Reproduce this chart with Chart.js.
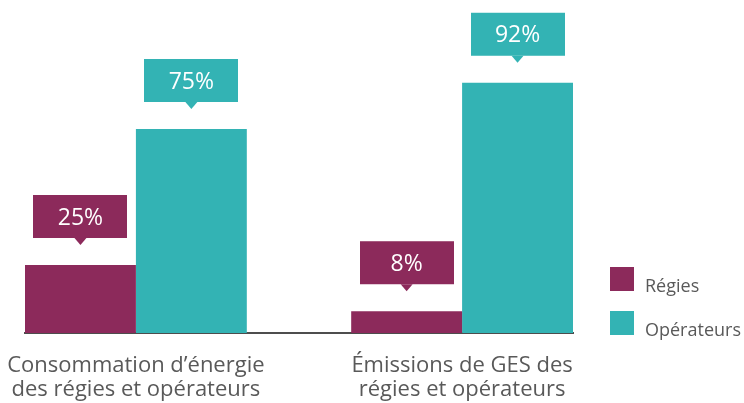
<!DOCTYPE html>
<html lang="fr">
<head>
<meta charset="utf-8">
<title>Régies et opérateurs</title>
<script src="https://cdn.jsdelivr.net/npm/chart.js@4.4.1/dist/chart.umd.min.js"></script>
<style>
    html, body { margin: 0; padding: 0; background: #fff; overflow: hidden; }
    canvas { display: block; }
</style>
</head>
<body>
<canvas id="chart" width="744" height="403"></canvas>
<script>
// Données du graphique
const categories = [
    ['Consommation d’énergie', 'des régies et opérateurs'],
    ['Émissions de GES des', 'régies et opérateurs']
];
const seriesNames = ['Régies', 'Opérateurs'];
const regiesValues = [25, 8];
const operateursValues = [75, 92];
const seriesColors = ['#8C2A5B', '#33B3B4'];

const FONT = 'Open Sans';
const TEXT_COLOR = '#595959';

// Bulles avec la valeur au-dessus de chaque barre
const calloutPlugin = {
    id: 'callouts',
    afterDatasetsDraw(chart) {
        const ctx = chart.ctx;
        const boxW = 94, boxH = 43, tip = 7, gap = 20;
        ctx.save();
        chart.data.datasets.forEach((ds, di) => {
            const meta = chart.getDatasetMeta(di);
            meta.data.forEach((bar, i) => {
                const value = ds.data[i].y;
                const bottom = bar.y - gap - tip;
                const top = bottom - boxH;
                ctx.fillStyle = ds.backgroundColor;
                ctx.fillRect(Math.round(bar.x - boxW / 2), top, boxW, boxH);
                ctx.beginPath();
                ctx.moveTo(bar.x - 6, bottom);
                ctx.lineTo(bar.x + 6, bottom);
                ctx.lineTo(bar.x, bottom + tip);
                ctx.closePath();
                ctx.fill();
                ctx.fillStyle = '#fff';
                ctx.font = `23px "${FONT}"`;
                ctx.textAlign = 'center';
                ctx.textBaseline = 'alphabetic';
                ctx.fillText(value + '%', bar.x, top + boxH / 2 + 8);
            });
        });
        ctx.restore();
    }
};

// Légende à droite, alignée sur le bas des barres
const legendPlugin = {
    id: 'sideLegend',
    afterDraw(chart) {
        const ctx = chart.ctx;
        const area = chart.chartArea;
        const x = area.right + 37;
        ctx.save();
        ctx.font = `18px "${FONT}"`;
        ctx.textAlign = 'left';
        ctx.textBaseline = 'alphabetic';
        chart.data.datasets.forEach((ds, i) => {
            const y = area.bottom - 66 + i * 44;
            ctx.fillStyle = ds.backgroundColor;
            ctx.fillRect(x, y, 24, 24);
            ctx.fillStyle = TEXT_COLOR;
            ctx.fillText(ds.label, x + 35, y + 25);
        });
        ctx.restore();
    }
};

const toPoints = (values) => values.map((v, i) => ({ x: i, y: v }));

new Chart(document.getElementById('chart'), {
    type: 'bar',
    data: {
        datasets: [
            {
                label: seriesNames[0],
                data: toPoints(regiesValues),
                backgroundColor: seriesColors[0]
            },
            {
                label: seriesNames[1],
                data: toPoints(operateursValues),
                backgroundColor: seriesColors[1]
            }
        ]
    },
    options: {
        responsive: false,
        animation: false,
        devicePixelRatio: 1,
        categoryPercentage: 0.68,
        barPercentage: 1,
        layout: {
            padding: { left: 25, right: 171, top: 61, bottom: 0 }
        },
        plugins: {
            legend: { display: false },
            tooltip: { enabled: false }
        },
        scales: {
            x: {
                type: 'linear',
                min: -0.34,
                max: 1.34,
                bounds: 'data',
                offset: false,
                grid: { display: false, drawTicks: false },
                border: { display: true, color: '#4d4d4d', width: 2 },
                afterBuildTicks: (scale) => {
                    scale.ticks = categories.map((_, i) => ({ value: i }));
                },
                afterFit: (scale) => {
                    scale.height = 70;
                    scale.paddingLeft = 0;
                    scale.paddingRight = 0;
                },
                ticks: {
                    autoSkip: false,
                    maxRotation: 0,
                    padding: 21,
                    color: TEXT_COLOR,
                    font: { family: FONT, size: 22, lineHeight: '24px' },
                    callback: (value) => categories[value]
                }
            },
            y: {
                display: false,
                min: 0,
                max: 100
            }
        }
    },
    plugins: [calloutPlugin, legendPlugin]
});
</script>
</body>
</html>
